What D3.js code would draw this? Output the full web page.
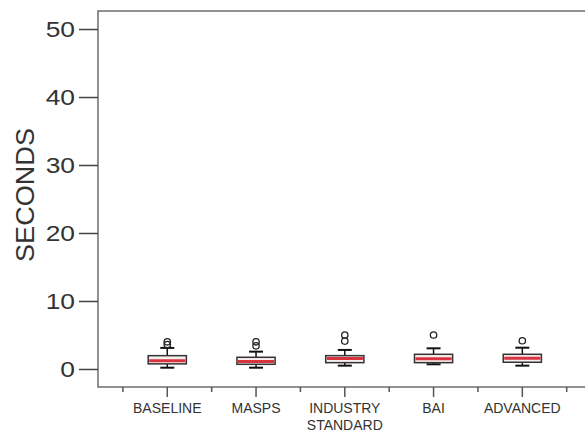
<!DOCTYPE html>
<html>
<head>
<meta charset="utf-8">
<script src="https://cdn.jsdelivr.net/npm/d3@7"></script>
<style>
  html, body { margin: 0; padding: 0; background: #fff; }
  svg { display: block; }
  text { font-family: "Liberation Sans", Arial, sans-serif; }
</style>
</head>
<body>
<svg id="chart" width="585" height="435"></svg>
<script>
// ---- data ----
const categories = ["BASELINE", "MASPS", "INDUSTRY STANDARD", "BAI", "ADVANCED"];
const whiskerLow  = [0.19, 0.19, 0.49, 0.69, 0.49];
const q1          = [0.75, 0.69, 0.93, 0.93, 0.99];
const median      = [1.20, 1.10, 1.55, 1.50, 1.57];
const q3          = [1.96, 1.72, 1.96, 2.16, 2.16];
const whiskerHigh = [3.10, 2.55, 2.80, 3.04, 3.13];
const outliers    = [[4.0, 3.6], [4.0, 3.4], [5.0, 4.1], [5.0], [4.15]];
const yTicks      = [0, 10, 20, 30, 40, 50];
const yTitle      = "SECONDS";

// ---- layout ----
const svg = d3.select("#chart");
const frameLeft = 98, frameTop = 11, frameBottom = 387, frameRight = 600;

const y = d3.scaleLinear().domain([-2.65, 52.65]).range([frameBottom, frameTop]);
const x = d3.scaleBand().domain(categories).range([122.9, 566.7]).padding(0);

// frame
svg.append("rect")
  .attr("x", frameLeft).attr("y", frameTop)
  .attr("width", frameRight - frameLeft).attr("height", frameBottom - frameTop)
  .attr("fill", "none").attr("stroke", "#6e6e6e").attr("stroke-width", 1.5);

// y axis
const yAxis = svg.append("g")
  .attr("transform", `translate(${frameLeft},0)`)
  .call(d3.axisLeft(y).tickValues(yTicks).tickSize(19).tickPadding(0));
yAxis.select(".domain").remove();
yAxis.selectAll(".tick line").attr("stroke", "#444").attr("stroke-width", 1.5);
yAxis.selectAll(".tick text")
  .attr("font-size", 22)
  .attr("fill", "#333")
  .attr("x", -23 / 1.2)
  .attr("dy", "0.36em")
  .attr("transform", "scale(1.2,1)")
  .attr("font-family", "'Liberation Sans', Arial, sans-serif");

// y title
svg.append("text")
  .attr("transform", `translate(34,195) rotate(-90)`)
  .attr("text-anchor", "middle")
  .attr("font-size", 25)
  .attr("fill", "#333")
  .attr("textLength", 134)
  .attr("lengthAdjust", "spacingAndGlyphs")
  .text(yTitle);

// x axis: major ticks at category centres, minor ticks at band edges
const xAxisG = svg.append("g").attr("transform", `translate(0,${frameBottom})`);
const edges = categories.map(c => x(c)).concat([x(categories[categories.length - 1]) + x.bandwidth()]);
xAxisG.selectAll("line.minor").data(edges).join("line")
  .attr("class", "minor")
  .attr("x1", d => d).attr("x2", d => d)
  .attr("y1", 0).attr("y2", 5)
  .attr("stroke", "#555").attr("stroke-width", 1.5);
xAxisG.selectAll("line.major").data(categories).join("line")
  .attr("class", "major")
  .attr("x1", d => x(d) + x.bandwidth() / 2).attr("x2", d => x(d) + x.bandwidth() / 2)
  .attr("y1", 0).attr("y2", 10)
  .attr("stroke", "#555").attr("stroke-width", 1.5);
const labels = xAxisG.selectAll("text.lab").data(categories).join("text")
  .attr("class", "lab")
  .attr("text-anchor", "middle")
  .attr("font-size", 14)
  .attr("fill", "#333")
  .attr("x", d => x(d) + x.bandwidth() / 2)
  .attr("y", 26);
labels.each(function(d) {
  const words = d.split(" ");
  const t = d3.select(this);
  words.forEach((w, i) => {
    t.append("tspan")
      .attr("x", x(d) + x.bandwidth() / 2)
      .attr("dy", i === 0 ? 0 : 17)
      .text(w);
  });
});

// boxes
const boxW = x.bandwidth() * 0.43;
const capW = 14;
const boxes = svg.append("g").selectAll("g.box").data(categories).join("g")
  .attr("class", "box")
  .attr("transform", d => `translate(${x(d) + x.bandwidth() / 2},0)`);

boxes.append("line")
  .attr("x1", 0).attr("x2", 0)
  .attr("y1", (d, i) => y(whiskerLow[i])).attr("y2", (d, i) => y(whiskerHigh[i]))
  .attr("stroke", "#111").attr("stroke-width", 1.5);
boxes.append("line")
  .attr("x1", -capW / 2).attr("x2", capW / 2)
  .attr("y1", (d, i) => y(whiskerLow[i])).attr("y2", (d, i) => y(whiskerLow[i]))
  .attr("stroke", "#111").attr("stroke-width", 2);
boxes.append("line")
  .attr("x1", -capW / 2).attr("x2", capW / 2)
  .attr("y1", (d, i) => y(whiskerHigh[i])).attr("y2", (d, i) => y(whiskerHigh[i]))
  .attr("stroke", "#111").attr("stroke-width", 2);
boxes.append("rect")
  .attr("x", -boxW / 2).attr("width", boxW)
  .attr("y", (d, i) => y(q3[i]))
  .attr("height", (d, i) => y(q1[i]) - y(q3[i]))
  .attr("fill", "#f7eeee").attr("stroke", "#333").attr("stroke-width", 1.5);
boxes.append("line")
  .attr("x1", -boxW / 2 + 1).attr("x2", boxW / 2 - 1)
  .attr("y1", (d, i) => y(median[i])).attr("y2", (d, i) => y(median[i]))
  .attr("stroke", "#d9333f").attr("stroke-width", 3);
boxes.selectAll("circle").data((d, i) => outliers[i]).join("circle")
  .attr("cx", 0).attr("cy", v => y(v)).attr("r", 3.2)
  .attr("fill", "none").attr("stroke", "#222").attr("stroke-width", 1.3);
</script>
</body>
</html>
